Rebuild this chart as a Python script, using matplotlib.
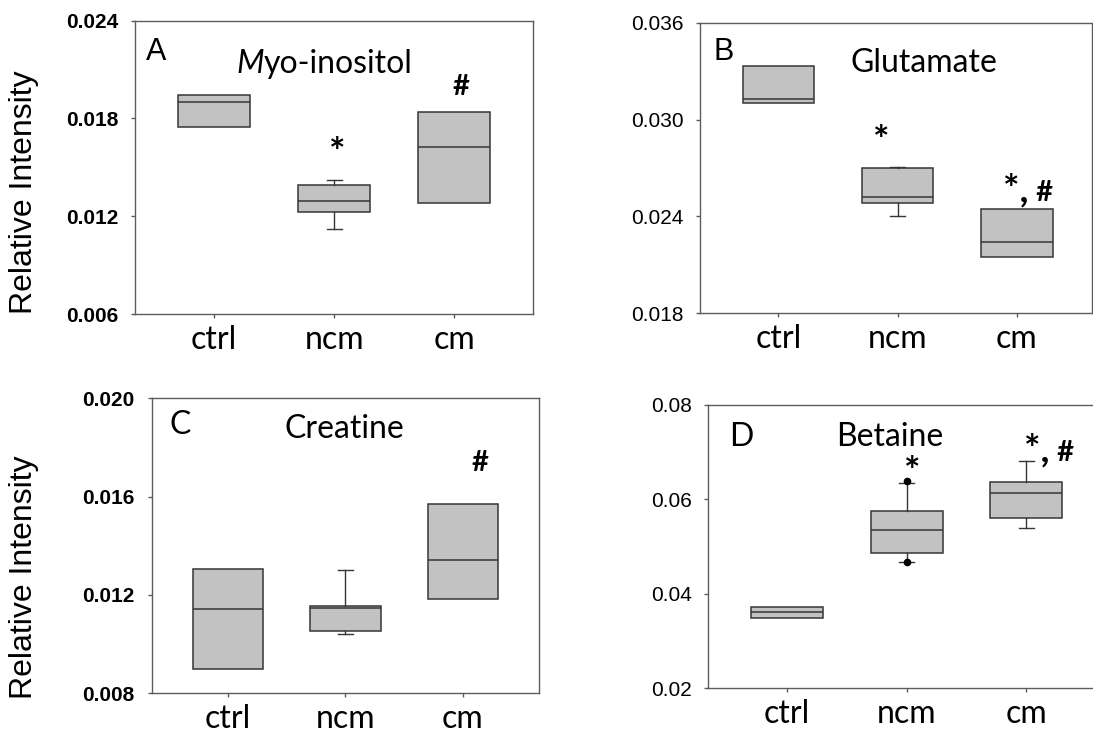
import matplotlib
matplotlib.use("Agg")
import matplotlib.pyplot as plt
from matplotlib.offsetbox import TextArea, HPacker, AnchoredOffsetbox

groups = ["ctrl", "ncm", "cm"]

# Myo-inositol (panel A): whisker low, Q1, median, Q3, whisker high
myo_lo = [0.01750, 0.01124, 0.01281]
myo_q1 = [0.01750, 0.01226, 0.01281]
myo_med = [0.01899, 0.01292, 0.01627]
myo_q3 = [0.01942, 0.01390, 0.01842]
myo_hi = [0.01942, 0.01422, 0.01842]
myo_ticks = [0.006, 0.012, 0.018, 0.024]

# Glutamate (panel B)
glu_lo = [0.03101, 0.02403, 0.02150]
glu_q1 = [0.03101, 0.02481, 0.02150]
glu_med = [0.03127, 0.02518, 0.02240]
glu_q3 = [0.03330, 0.02702, 0.02444]
glu_hi = [0.03330, 0.02708, 0.02444]
glu_ticks = [0.018, 0.024, 0.030, 0.036]

# Creatine (panel C)
cre_lo = [0.00899, 0.01040, 0.01185]
cre_q1 = [0.00899, 0.01055, 0.01185]
cre_med = [0.01142, 0.01146, 0.01341]
cre_q3 = [0.01304, 0.01155, 0.01571]
cre_hi = [0.01304, 0.01300, 0.01571]
cre_ticks = [0.008, 0.012, 0.016, 0.020]

# Betaine (panel D)
bet_lo = [0.0349, 0.0468, 0.0539]
bet_q1 = [0.0349, 0.0486, 0.0561]
bet_med = [0.0361, 0.0535, 0.0614]
bet_q3 = [0.0373, 0.0576, 0.0636]
bet_hi = [0.0373, 0.0634, 0.0681]
bet_fliers = [[], [0.0467, 0.0638], []]
bet_ticks = [0.02, 0.04, 0.06, 0.08]

BOX_FILL = "#c2c2c2"
EDGE = "#363636"
SPINE = "#5c5c5c"
W, H = 1093, 739

fig = plt.figure(figsize=(W / 100, H / 100), dpi=100)


def px_axes(left, top, right, bottom):
    return fig.add_axes([left / W, 1 - bottom / H, (right - left) / W, (bottom - top) / H])


def stats_for(lo, q1, med, q3, hi, fliers=None):
    out = []
    for i in range(len(med)):
        out.append(dict(whislo=lo[i], q1=q1[i], med=med[i], q3=q3[i], whishi=hi[i],
                        fliers=(fliers[i] if fliers else [])))
    return out


def panel(ax, stats, ticks, fmt, xlim, bold_ticks):
    # caps only where a whisker actually extends past the box
    caps = [0.125 if (s["whislo"] < s["q1"] or s["whishi"] > s["q3"]) else 0.0 for s in stats]
    ax.bxp(stats, positions=[1, 2, 3], widths=0.6, patch_artist=True, showfliers=True,
           capwidths=caps,
           boxprops=dict(facecolor=BOX_FILL, edgecolor=EDGE, linewidth=1.1),
           medianprops=dict(color=EDGE, linewidth=1.1),
           whiskerprops=dict(color=EDGE, linewidth=1.0),
           capprops=dict(color=EDGE, linewidth=1.0),
           flierprops=dict(marker="o", markerfacecolor="black", markeredgecolor="black",
                           markersize=4.5, linestyle="none"))
    ax.set_ylim(ticks[0], ticks[-1])
    ax.set_xlim(*xlim)
    ax.set_yticks(ticks)
    ax.set_yticklabels([fmt.format(t) for t in ticks],
                       fontfamily="Liberation Sans", fontsize=15,
                       fontweight="bold" if bold_ticks else "normal")
    ax.set_xticks([1, 2, 3])
    ax.set_xticklabels(groups, fontfamily="Lato", fontsize=23)
    ax.tick_params(axis="y", direction="out", length=3, width=1, color=SPINE, pad=9)
    ax.tick_params(axis="x", direction="out", length=3, width=1, color=SPINE, pad=5)
    for s in ax.spines.values():
        s.set_color(SPINE)
        s.set_linewidth(1.0)


def star(ax, x, y):
    ax.text(x, y, "*", ha="center", va="center", fontfamily="Lato", fontweight="bold",
            fontsize=28, color="black")


def hash_mark(ax, x, y):
    ax.text(x, y, "#", ha="center", va="center", fontfamily="Lato", fontweight="bold",
            fontsize=21, color="black")


def star_hash(ax, x, y):
    pieces = [TextArea("*,", textprops=dict(fontfamily="Lato", fontweight="bold", fontsize=28)),
              TextArea(" #", textprops=dict(fontfamily="Lato", fontweight="bold", fontsize=21))]
    box = HPacker(children=pieces, align="baseline", pad=0, sep=0)
    ax.add_artist(AnchoredOffsetbox(loc="center", child=box, pad=0, borderpad=0, frameon=False,
                                    bbox_to_anchor=(x, y), bbox_transform=ax.transData))


# Panel A
axA = px_axes(135, 20.7, 533.2, 314)
panel(axA, stats_for(myo_lo, myo_q1, myo_med, myo_q3, myo_hi), myo_ticks, "{:.3f}",
      (0.342, 3.658), True)
axA.text(0.053, 0.893, "A", transform=axA.transAxes, ha="center", va="center",
         fontfamily="Liberation Sans", fontsize=22)
title = HPacker(children=[TextArea("M", textprops=dict(fontfamily="Lato", fontstyle="italic", fontsize=23)),
                          TextArea("yo-inositol", textprops=dict(fontfamily="Lato", fontsize=23))],
                align="baseline", pad=0, sep=0)
axA.add_artist(AnchoredOffsetbox(loc="center", child=title, pad=0, borderpad=0, frameon=False,
                                 bbox_to_anchor=(0.476, 0.852), bbox_transform=axA.transAxes))
star(axA, 2.03, 0.01582)
hash_mark(axA, 3.06, 0.01995)

# Panel B
axB = px_axes(700, 22.7, 1092, 313.3)
panel(axB, stats_for(glu_lo, glu_q1, glu_med, glu_q3, glu_hi), glu_ticks, "{:.3f}",
      (0.342, 3.631), False)
axB.text(0.059, 0.900, "B", transform=axB.transAxes, ha="center", va="center",
         fontfamily="Liberation Sans", fontsize=22)
axB.text(0.571, 0.862, "Glutamate", transform=axB.transAxes, ha="center", va="center",
         fontfamily="Lato", fontsize=23)
star(axB, 1.86, 0.02867)
star_hash(axB, 3.095, 0.02564)

# Panel C
axC = px_axes(151.5, 398.3, 539, 693.3)
panel(axC, stats_for(cre_lo, cre_q1, cre_med, cre_q3, cre_hi), cre_ticks, "{:.3f}",
      (0.349, 3.647), True)
axC.text(0.075, 0.9095, "C", transform=axC.transAxes, ha="center", va="center",
         fontfamily="Lato", fontsize=23)
axC.text(0.499, 0.897, "Creatine", transform=axC.transAxes, ha="center", va="center",
         fontfamily="Lato", fontsize=23)
hash_mark(axC, 3.143, 0.01738)

# Panel D
axD = px_axes(708.3, 405, 1105, 688.3)
panel(axD, stats_for(bet_lo, bet_q1, bet_med, bet_q3, bet_hi, bet_fliers), bet_ticks, "{:.2f}",
      (0.341, 3.659), False)
axD.text(0.083, 0.888, "D", transform=axD.transAxes, ha="center", va="center",
         fontfamily="Lato", fontsize=23)
axD.text(0.457, 0.888, "Betaine", transform=axD.transAxes, ha="center", va="center",
         fontfamily="Lato", fontsize=23)
star(axD, 2.05, 0.0656)
star_hash(axD, 3.19, 0.0705)

for yc in (192, 577):
    fig.text(24.5 / W, 1 - yc / H, "Relative Intensity", rotation=90, ha="center", va="center",
             fontfamily="Liberation Sans", fontsize=23)

fig.savefig("out.png", dpi=100)
